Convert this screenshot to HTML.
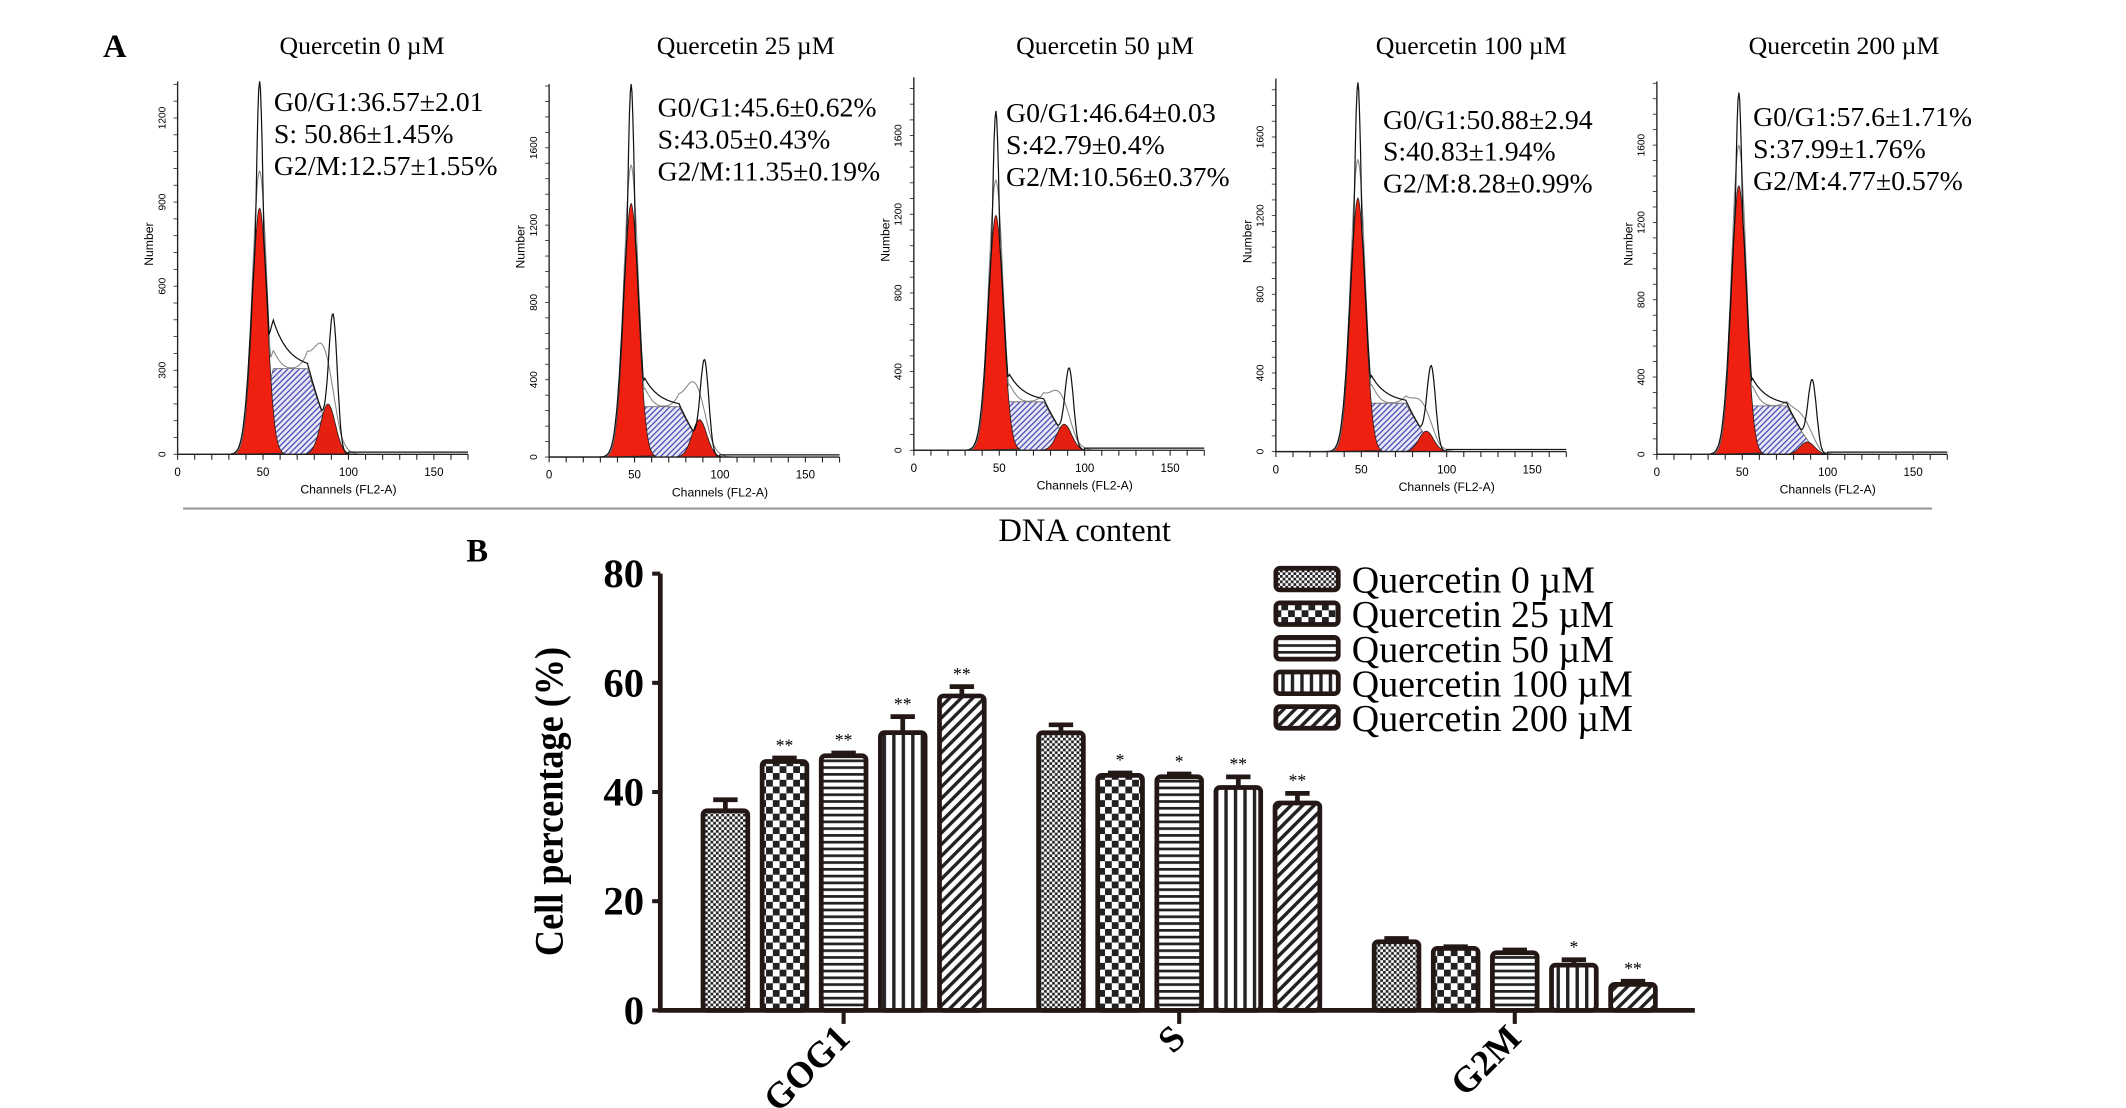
<!DOCTYPE html>
<html><head><meta charset="utf-8"><style>html,body{margin:0;padding:0;background:#fff}svg{display:block}</style></head>
<body>
<svg id="fig" width="2126" height="1108" viewBox="0 0 1568 817" preserveAspectRatio="none" xmlns="http://www.w3.org/2000/svg" font-family="Liberation Serif, serif">
<defs>
<pattern id="p0" width="4" height="4" patternUnits="userSpaceOnUse"><rect width="4" height="4" fill="#fff"/><rect width="2" height="2" fill="#222"/><rect x="2" y="2" width="2" height="2" fill="#222"/></pattern>
<pattern id="p1" width="10" height="10" patternUnits="userSpaceOnUse"><rect width="10" height="10" fill="#fff"/><rect width="5" height="5" fill="#222"/><rect x="5" y="5" width="5" height="5" fill="#222"/></pattern>
<pattern id="p2" width="5" height="5" patternUnits="userSpaceOnUse"><rect width="5" height="5" fill="#fff"/><rect width="5" height="2" fill="#222"/></pattern>
<pattern id="p3" width="7" height="7" patternUnits="userSpaceOnUse"><rect width="7" height="7" fill="#fff"/><rect width="2.5" height="7" fill="#222"/></pattern>
<pattern id="p4" width="6" height="6" patternUnits="userSpaceOnUse" patternTransform="rotate(45)"><rect width="6" height="6" fill="#fff"/><rect width="2.5" height="6" fill="#222"/></pattern>
<pattern id="hb" width="3" height="3" patternUnits="userSpaceOnUse" patternTransform="rotate(45)"><rect width="3" height="3" fill="#e8e8f6"/><rect width="1" height="3" fill="#5555b8"/></pattern>
</defs>
<g id="panelA"></g>
<g id="panelB"></g>
</svg>
<script>
// ---- Panel A data (fractions of axis height) ----
const panelTitles = ["Quercetin 0 \u00b5M","Quercetin 25 \u00b5M","Quercetin 50 \u00b5M","Quercetin 100 \u00b5M","Quercetin 200 \u00b5M"];
const statG1 = ["G0/G1:36.57\u00b12.01","G0/G1:45.6\u00b10.62%","G0/G1:46.64\u00b10.03","G0/G1:50.88\u00b12.94","G0/G1:57.6\u00b11.71%"];
const statS = ["S: 50.86\u00b11.45%","S:43.05\u00b10.43%","S:42.79\u00b10.4%","S:40.83\u00b11.94%","S:37.99\u00b11.76%"];
const statG2 = ["G2/M:12.57\u00b11.55%","G2/M:11.35\u00b10.19%","G2/M:10.56\u00b10.37%","G2/M:8.28\u00b10.99%","G2/M:4.77\u00b10.57%"];
const g1Red = [0.66,0.68,0.63,0.68,0.72];
const g1Black = [1.0,1.0,0.91,0.99,0.97];
const sLevel = [0.23,0.135,0.13,0.13,0.13];
const g2Red = [0.135,0.10,0.07,0.055,0.033];
const g2Black = [0.34,0.24,0.2,0.21,0.18];
const yTickLabels = [["0","300","600","900","1200"],["0","400","800","1200","1600"],["0","400","800","1200","1600"],["0","400","800","1200","1600"],["0","400","800","1200","1600"]];
const xTickLabels = ["0","50","100","150"];
// ---- Panel B data ----
const categories = ["GOG1","S","G2M"];
const seriesNames = ["Quercetin 0 \u00b5M","Quercetin 25 \u00b5M","Quercetin 50 \u00b5M","Quercetin 100 \u00b5M","Quercetin 200 \u00b5M"];
const valuesG0G1 = [36.57,45.6,46.64,50.88,57.6];
const valuesS = [50.86,43.05,42.79,40.83,37.99];
const valuesG2M = [12.57,11.35,10.56,8.28,4.77];
const errG0G1 = [2.01,0.62,0.5,2.94,1.71];
const errS = [1.45,0.43,0.5,1.94,1.76];
const errG2M = [0.6,0.3,0.5,0.99,0.57];
const starsG0G1 = ["","**","**","**","**"];
const starsS = ["","*","*","**","**"];
const starsG2M = ["","","","*","**"];
const yTicks = [0,20,40,60,80];

const NS="http://www.w3.org/2000/svg";
function mk(tag,attrs,parent,text){const e=document.createElementNS(NS,tag);for(const k in attrs)e.setAttribute(k,attrs[k]);if(text!==undefined)e.textContent=text;parent.appendChild(e);return e;}

// ---------- Panel A ----------
const A=document.getElementById('panelA');
const t0=mk('text',{x:76,y:42,'font-size':24,'font-weight':'bold'},A,'A');


const axisX=[131,405,674,941,1222], baseY=[335,337,332,333,335];
const titleX=[267,550,815,1085,1360];
const statX=[202,485,742,1020,1293], statY=[82,86,90,95,93];
const tickStep=[62,57,58,58,57];
const PX=1.26, H=275;
function gauss(c,m,s){return Math.exp(-0.5*((c-m)/s)**2);}
function sShape(c){ if(c<44) return 0; if(c<56) return (c-44)/12; if(c<76) return 1; if(c<96) return Math.max(0,1-(c-76)/20)**1.3; return 0;}
for(let i=0;i<5;i++){
  const g=mk('g',{},A);
  
  
  const x0=axisX[i], y0=baseY[i];
  const X=c=>x0+c*PX, Y=v=>y0-v*H;
  const tt=mk('text',{x:titleX[i],y:40,'font-size':19,'text-anchor':'middle'},g,panelTitles[i]);
  
  
  let d='M'+X(44)+' '+y0;
  for(let c=44;c<=96;c+=0.5) d+=' L'+X(c).toFixed(1)+' '+Y(sLevel[i]*sShape(c)).toFixed(1);
  d+=' L'+X(96)+' '+y0+' Z';
  const sp=mk('path',{d:d,fill:'url(#hb)',stroke:'#666','stroke-width':0.6},g);
  
  
  d='M'+X(34)+' '+y0;
  for(let c=34;c<=62;c+=0.5) d+=' L'+X(c).toFixed(1)+' '+Y(g1Red[i]*gauss(c,48,4.3)).toFixed(1);
  d+=' Z';
  const r1=mk('path',{d:d,fill:'#f02010',stroke:'#222','stroke-width':0.6},g);
  
  
  d='M'+X(74)+' '+y0;
  for(let c=74;c<=102;c+=0.5) d+=' L'+X(c).toFixed(1)+' '+Y(g2Red[i]*gauss(c,88,4.3)).toFixed(1);
  d+=' Z';
  const r2=mk('path',{d:d,fill:'#e52010',stroke:'#222','stroke-width':0.6},g);
  
  
  d='';
  for(let c=30;c<=110;c+=0.5){const v=Math.max(g1Red[i]*gauss(c,48,4.3)*1.15, sLevel[i]*sShape(c)+g2Red[i]*gauss(c,86,6)*1.4+g1Red[i]*0.1*gauss(c,52,5)); d+=(d?' L':'M')+X(c).toFixed(1)+' '+Y(v).toFixed(1);}
  const ge=mk('path',{d:d,fill:'none',stroke:'#888','stroke-width':0.8},g);
  
  
  d='';
  for(let c=0;c<=170;c+=0.5){
    let v=Math.max(g1Black[i]*gauss(c,48,2.4), g1Red[i]*gauss(c,48,4.6));
    if(c>50) v=Math.max(v, sLevel[i]*sShape(c)*(1+1.1*Math.exp(-(c-50)/9)));
    v=Math.max(v, sLevel[i]*sShape(c)*0.95 + g2Black[i]*gauss(c,91,2.5));
    if(c>=100) v=Math.max(v,0.006);
    d+=(d?' L':'M')+X(c).toFixed(1)+' '+Y(v).toFixed(1);
  }
  const bh=mk('path',{d:d,fill:'none',stroke:'#111','stroke-width':0.9},g);
  
  
  const ax=mk('path',{d:`M${x0} ${y0-H} L${x0} ${y0} L${X(170)} ${y0}`,fill:'none',stroke:'#222','stroke-width':1},g);
  
  
  for(let c=0;c<=170;c+=10) mk('line',{x1:X(c),x2:X(c),y1:y0,y2:y0+4,stroke:'#222','stroke-width':0.8},g);
  for(let k=0;k<=H/ (tickStep[i]/5);k++){const yy=y0-k*tickStep[i]/5; if(yy<y0-H) break; mk('line',{x1:x0-3,x2:x0,y1:yy,y2:yy,stroke:'#222','stroke-width':0.6},g);}
  xTickLabels.forEach((l,k)=>{const t=mk('text',{x:X(k*50),y:y0+16,'font-size':8.5,'font-family':'Liberation Sans, sans-serif','text-anchor':'middle'},g,l);
    
    });
  yTickLabels[i].forEach((l,k)=>{const yy=y0-k*tickStep[i];const t=mk('text',{x:0,y:0,'font-size':7.5,'font-family':'Liberation Sans, sans-serif','text-anchor':'middle',transform:`translate(${x0-9},${yy}) rotate(-90)`},g,l);
    
    });
  const xt=mk('text',{x:X(100),y:y0+29,'font-size':9,'font-family':'Liberation Sans, sans-serif','text-anchor':'middle'},g,'Channels (FL2-A)');
  
  
  const yt=mk('text',{x:0,y:0,'font-size':9,'font-family':'Liberation Sans, sans-serif','text-anchor':'middle',transform:`translate(${x0-18},${y0-155}) rotate(-90)`},g,'Number');
  
  
  [statG1[i],statS[i],statG2[i]].forEach((s,k)=>{const t=mk('text',{x:statX[i],y:statY[i]+k*23.5,'font-size':20.5},g,s);
    
    });
}
const sep=mk('line',{x1:135,x2:1425,y1:375,y2:375,stroke:'#999','stroke-width':1.5},A);


const dna=mk('text',{x:800,y:399,'font-size':24,'text-anchor':'middle'},A,'DNA content');



// ---------- Panel B ----------
const B=document.getElementById('panelB');
const bl=mk('text',{x:344,y:414,'font-size':24,'font-weight':'bold'},B,'B');


const axL=487, y0B=745, yTop=423, vmax=80;
const yS=v=>y0B-(v/vmax)*(y0B-yTop);
const firstBar=535, barStep=43.6, groupStep=247.5, barW=33;
const allVals=[valuesG0G1,valuesS,valuesG2M], allErr=[errG0G1,errS,errG2M], allStars=[starsG0G1,starsS,starsG2M];
const bx=(gi,si)=>firstBar+gi*groupStep+si*barStep;
for(let gi=0;gi<3;gi++){
  for(let si=0;si<5;si++){
    const v=allVals[gi][si], e=allErr[gi][si], cx=bx(gi,si);
    const r=mk('rect',{x:cx-barW/2,y:yS(v),width:barW,height:y0B-yS(v),fill:`url(#p${si})`,stroke:'#231815','stroke-width':3.5,rx:3},B);
    
    
    const eb=mk('path',{d:`M${cx} ${yS(v)} L${cx} ${yS(v+e)} M${cx-9} ${yS(v+e)} L${cx+9} ${yS(v+e)}`,stroke:'#231815','stroke-width':3.5,fill:'none'},B);
    
    
    if(allStars[gi][si]){const t=mk('text',{x:cx,y:yS(v+e)-5,'font-size':13,'text-anchor':'middle'},B,allStars[gi][si]);
      
      }
  }
  const tc=bx(gi,2);
  mk('line',{x1:tc,x2:tc,y1:y0B,y2:y0B+10,stroke:'#231815','stroke-width':3},B);
  const cl=mk('text',{x:0,y:0,'font-size':27,'font-weight':'bold','text-anchor':'end',transform:`translate(${tc+6},${y0B+22}) rotate(-45)`},B,categories[gi]);
  
  
}
const axes=mk('path',{d:`M${axL} ${yTop} L${axL} ${y0B} L1250 ${y0B}`,fill:'none',stroke:'#231815','stroke-width':3.5},B);


yTicks.forEach(v=>{mk('line',{x1:axL-6,x2:axL,y1:yS(v),y2:yS(v),stroke:'#231815','stroke-width':3},B);
  const t=mk('text',{x:axL-12,y:yS(v)+10,'font-size':30,'font-weight':'bold','text-anchor':'end'},B,String(v));
  
  });
const yTitle=mk('text',{x:0,y:0,'font-size':30,'font-weight':'bold','text-anchor':'middle',transform:'translate(415,591) rotate(-90)',textLength:228,lengthAdjust:'spacingAndGlyphs'},B,'Cell  percentage (%)');


seriesNames.forEach((n,si)=>{
  const yy=427+si*25.5;
  const r=mk('rect',{x:941,y:yy-8,width:46,height:16,fill:`url(#p${si})`,stroke:'#231815','stroke-width':3.5,rx:3},B);
  
  
  const t=mk('text',{x:997,y:yy+10,'font-size':28},B,n);
  
  
});
</script>
</body></html>
